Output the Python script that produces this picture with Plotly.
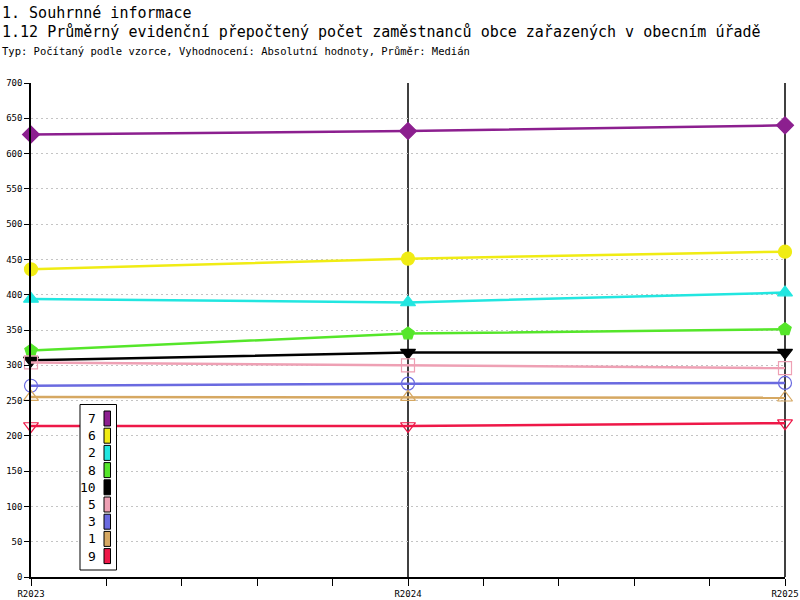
import plotly.graph_objects as go

# data
years = [2023, 2024, 2025]
year_labels = ["R2023", "R2024", "R2025"]
series_names = ["7", "6", "2", "8", "10", "5", "3", "1", "9"]
series_colors = ["#8C1F8F", "#F0EC14", "#22E6E0", "#55E62A", "#000000",
                 "#EEA0B4", "#6A6AE0", "#D6A862", "#EE1848"]
series_symbols = ["diamond", "circle", "triangle-up", "pentagon", "triangle-down",
                  "square-open", "circle-open", "triangle-up-open", "triangle-down-open"]
values_7 = [627, 632, 640]
values_6 = [436, 451, 461]
values_2 = [394, 389, 403]
values_8 = [321, 345, 351]
values_10 = [307, 318, 318]
values_5 = [304, 300, 296]
values_3 = [271, 274, 275]
values_1 = [255, 255, 254]
values_9 = [214, 214, 218]
all_values = [values_7, values_6, values_2, values_8, values_10,
              values_5, values_3, values_1, values_9]

FONT = "DejaVu Sans Mono"
L, R, T, B = 31, 785, 83, 577


def px(x):
    return (x - L) / (R - L)


def py_(y):
    return (B - y) / (B - T)


fig = go.Figure()
for name, col, sym, vals in zip(series_names, series_colors, series_symbols, all_values):
    fig.add_trace(go.Scatter(
        x=years, y=vals, name=name, mode="lines+markers",
        line=dict(color=col, width=2.5),
        marker=dict(symbol=sym, size=13, color=col,
                    line=dict(color=col, width=1.2)),
        cliponaxis=False, showlegend=False))

# hand-made legend box: label on the left, swatch on the right
shapes = [dict(type="rect", xref="paper", yref="paper",
               x0=px(80), x1=px(116.5), y0=py_(570), y1=py_(404.5),
               line=dict(color="black", width=1), fillcolor="white", layer="above")]
annotations = []
for i, (name, col) in enumerate(zip(series_names, series_colors)):
    top = 411 + i * 17.2
    shapes.append(dict(type="rect", xref="paper", yref="paper",
                       x0=px(104), x1=px(110.5), y0=py_(top + 15), y1=py_(top),
                       line=dict(color="black", width=1), fillcolor=col, layer="above"))
    annotations.append(dict(xref="paper", yref="paper", x=px(98), y=py_(top + 7.5),
                            text=name, showarrow=False, xanchor="right", yanchor="middle",
                            font=dict(family=FONT, size=13, color="black")))

# vertical line at the middle year, plus the right frame line
shapes.append(dict(type="line", xref="x", yref="paper", x0=years[1], x1=years[1], y0=0, y1=1,
                   line=dict(color="black", width=1.5), layer="below"))
shapes.append(dict(type="line", xref="paper", yref="paper", x0=1, x1=1, y0=0, y1=1,
                   line=dict(color="black", width=1.5), layer="below"))

titles = [("1. Souhrnné informace", 13, 15),
          ("1.12 Průměrný evidenční přepočtený počet zaměstnanců obce zařazených v obecním úřadě", 32, 15),
          ("Typ: Počítaný podle vzorce, Vyhodnocení: Absolutní hodnoty, Průměr: Medián", 51, 10.5)]
for txt, yy, sz in titles:
    annotations.append(dict(xref="paper", yref="paper", x=px(0), y=py_(yy), text=txt,
                            showarrow=False, xanchor="left", yanchor="middle",
                            font=dict(family=FONT, size=sz, color="black")))

fig.update_layout(
    width=800, height=600,
    margin=dict(l=L, r=800 - R, t=T, b=600 - B, pad=0, autoexpand=False),
    paper_bgcolor="white", plot_bgcolor="white",
    shapes=shapes, annotations=annotations,
    xaxis=dict(range=[2023, 2025], tickvals=years, ticktext=year_labels, automargin=False,
               showgrid=False, zeroline=False, showline=True, linecolor="black", linewidth=1.5,
               ticks="outside", ticklen=7, tickcolor="black", tickwidth=1,
               minor=dict(dtick=0.2, ticks="outside", ticklen=7, tickcolor="black", showgrid=False),
               tickfont=dict(family=FONT, size=9, color="black")),
    yaxis=dict(range=[0, 700], dtick=50, showgrid=True, gridcolor="#c4c4c4", griddash="2px,3px",
               gridwidth=1, zeroline=False, showline=True, linecolor="black", linewidth=1.5,
               ticks="outside", ticklen=5, tickcolor="black", automargin=False,
               tickfont=dict(family=FONT, size=9, color="black")),
)

fig.write_html("out.html", config={"displayModeBar": False},
               post_script="document.body.style.margin='0';")
